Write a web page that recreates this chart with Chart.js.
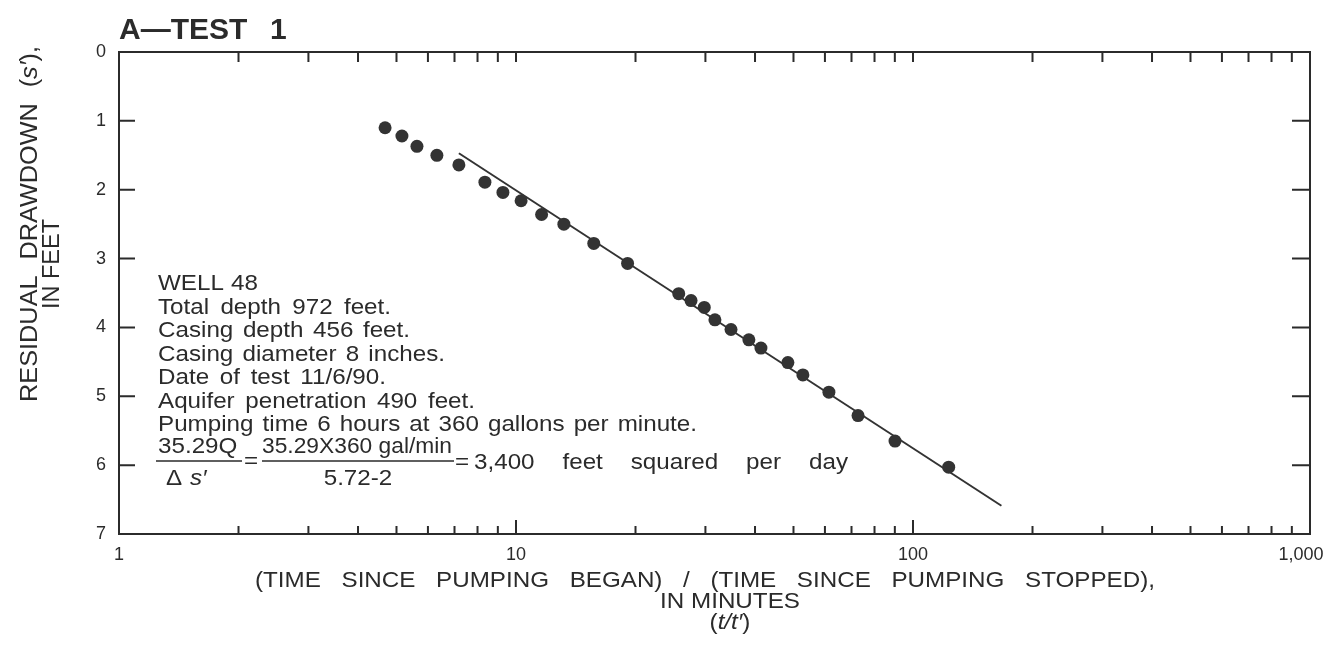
<!DOCTYPE html>
<html>
<head>
<meta charset="utf-8">
<script src="https://cdn.jsdelivr.net/npm/chart.js@4.4.0/dist/chart.umd.min.js"></script>
<style>
  html, body { margin: 0; padding: 0; background: #fff; }
  #wrap { width: 1330px; height: 662px; }
</style>
</head>
<body>
<div id="wrap"><canvas id="grafik"></canvas></div>
<script>
// t/t' ratio and residual drawdown
const ratio = [4.68, 5.16, 5.63, 6.32, 7.18, 8.35, 9.27, 10.3, 11.6, 13.2, 15.7, 19.1,
  25.7, 27.6, 29.8, 31.7, 34.8, 38.6, 41.4, 48.4, 52.8, 61.4, 72.7, 90.1, 123];
const drawdown = [1.10, 1.22, 1.37, 1.50, 1.64, 1.89, 2.04, 2.16, 2.36, 2.50, 2.78, 3.07,
  3.51, 3.61, 3.71, 3.89, 4.03, 4.18, 4.30, 4.51, 4.69, 4.94, 5.28, 5.65, 6.03];
// straight-line fit
const fitRatio = [7.18, 167];
const fitDrawdown = [1.47, 6.59];

const xTicks = [1, 10, 100, 1000];
const yTicks = [0, 1, 2, 3, 4, 5, 6, 7];

const notes = [
  'WELL 48',
  'Total depth 972 feet.',
  'Casing depth 456 feet.',
  'Casing diameter 8 inches.',
  'Date of test 11/6/90.',
  'Aquifer penetration 490 feet.',
  'Pumping time 6 hours at 360 gallons per minute.'
];

const ink = '#2b2b2b';
const fam = '"Liberation Sans", Arial, Helvetica, sans-serif';
const SX = 1.1; // the scanned lettering is a bit wider than Arial

// draw text, stretching word gaps (or squeezing letters) to reach a target width
function put(ctx, text, x, y, target, align) {
  ctx.wordSpacing = '0px';
  const n = (text.match(/ /g) || []).length;
  let sx = SX;
  let w = ctx.measureText(text).width * sx;
  if (target && n && target > w) {
    ctx.wordSpacing = ((target - w) / n / sx) + 'px';
    w = target;
  } else if (target && target < w) {
    sx = sx * target / w;
    w = target;
  }
  const left = align === 'center' ? x - w / 2 : x;
  ctx.save();
  ctx.translate(left, y);
  ctx.scale(sx, 1);
  ctx.textAlign = 'left';
  ctx.fillText(text, 0, 0);
  ctx.restore();
  ctx.wordSpacing = '0px';
  return w;
}

// runs of normal / italic text, centred on x
function runs(ctx, parts, x, y, size, gap) {
  ctx.wordSpacing = gap + 'px';
  const ws = parts.map(p => {
    ctx.font = (p.i ? 'italic ' : '') + size + 'px ' + fam;
    return ctx.measureText(p.t).width * SX;
  });
  let sx = x - ws.reduce((a, b) => a + b, 0) / 2;
  parts.forEach((p, k) => {
    ctx.font = (p.i ? 'italic ' : '') + size + 'px ' + fam;
    ctx.save();
    ctx.translate(sx, y);
    ctx.scale(SX, 1);
    ctx.textAlign = 'left';
    ctx.fillText(p.t, 0, 0);
    ctx.restore();
    sx += ws[k];
  });
  ctx.wordSpacing = '0px';
  ctx.font = size + 'px ' + fam;
}

const frame = {
  id: 'frame',
  afterDraw(chart) {
    const ctx = chart.ctx;
    const a = chart.chartArea;
    const xs = chart.scales.x, ys = chart.scales.y;
    ctx.save();
    ctx.strokeStyle = ink;
    ctx.lineWidth = 2;
    ctx.strokeRect(a.left, a.top, a.right - a.left, a.bottom - a.top);

    // inward tick marks on all four sides
    ctx.beginPath();
    for (let d = 1; d < 1000; d *= 10) {
      for (let m = 1; m <= 9; m++) {
        if (m === 1 && d === 1) continue;
        const px = xs.getPixelForValue(m * d);
        ctx.moveTo(px, a.bottom); ctx.lineTo(px, a.bottom - (m === 1 ? 14 : 8));
        ctx.moveTo(px, a.top); ctx.lineTo(px, a.top + 10);
      }
    }
    yTicks.forEach(v => {
      if (v === 0 || v === 7) return;
      const py = ys.getPixelForValue(v);
      ctx.moveTo(a.left, py); ctx.lineTo(a.left + 16, py);
      ctx.moveTo(a.right, py); ctx.lineTo(a.right - 18, py);
    });
    ctx.stroke();

    ctx.fillStyle = ink;
    ctx.textBaseline = 'alphabetic';

    // title
    ctx.font = 'bold 30px ' + fam;
    ctx.textAlign = 'left';
    ctx.fillText('A\u2014TEST', 119, 39);
    ctx.fillText('1', 270, 39);

    // y axis title (rotated)
    ctx.save();
    ctx.translate(37, 224);
    ctx.rotate(-Math.PI / 2);
    runs(ctx, [{ t: 'RESIDUAL DRAWDOWN (' }, { t: 's\u2032', i: true }, { t: '),' }], 0, 0, 23, 8);
    ctx.restore();
    ctx.save();
    ctx.translate(59, 264);
    ctx.rotate(-Math.PI / 2);
    ctx.font = '23px ' + fam;
    put(ctx, 'IN FEET', 0, 0, 90, 'center');
    ctx.restore();

    // x axis title
    ctx.font = '22px ' + fam;
    put(ctx, '(TIME SINCE PUMPING BEGAN) / (TIME SINCE PUMPING STOPPED),', 705, 587, 900, 'center');
    put(ctx, 'IN MINUTES', 730, 608, 0, 'center');
    runs(ctx, [{ t: '(' }, { t: 't/t\u2032', i: true }, { t: ')' }], 730, 629, 22, 0);

    // well notes
    ctx.font = '22px ' + fam;
    const noteW = [100, 233, 252, 287, 228, 317, 539];
    notes.forEach((s, i) => put(ctx, s, 158, 290 + i * 23.5, noteW[i]));

    // transmissivity equation
    put(ctx, '35.29Q', 158, 453, 0);
    put(ctx, '35.29X360 gal/min', 262, 453, 190);
    ctx.lineWidth = 1.5;
    ctx.beginPath();
    ctx.moveTo(156, 461); ctx.lineTo(242, 461);
    ctx.moveTo(262, 461); ctx.lineTo(454, 461);
    ctx.stroke();
    put(ctx, '=', 244, 468, 0);
    put(ctx, '=', 455, 469, 0);
    put(ctx, '3,400 feet squared per day', 474, 469, 374);
    put(ctx, '\u0394', 166, 485, 0);
    ctx.font = 'italic 22px ' + fam;
    put(ctx, 's\u2032', 190, 485, 0);
    ctx.font = '22px ' + fam;
    put(ctx, '5.72-2', 358, 485, 0, 'center');
    ctx.restore();
  }
};

const ctx = document.getElementById('grafik').getContext('2d');
new Chart(ctx, {
  type: 'scatter',
  data: {
    datasets: [{
      label: 'Residual drawdown',
      data: ratio.map((r, i) => ({ x: r, y: drawdown[i] })),
      pointRadius: 6.5,
      pointHoverRadius: 6.5,
      pointBackgroundColor: '#333',
      pointBorderWidth: 0
    }, {
      label: 'Fit',
      type: 'line',
      data: fitRatio.map((r, i) => ({ x: r, y: fitDrawdown[i] })),
      borderColor: '#333',
      borderWidth: 2,
      pointRadius: 0,
      fill: false
    }]
  },
  options: {
    responsive: true,
    maintainAspectRatio: false,
    animation: false,
    layout: { padding: { left: 0, top: 52, right: 20, bottom: 0 } },
    plugins: { legend: { display: false }, tooltip: { enabled: false } },
    scales: {
      x: {
        type: 'logarithmic',
        min: 1,
        max: 1000,
        grid: { display: false, drawTicks: false },
        border: { display: false },
        afterBuildTicks: s => { s.ticks = xTicks.map(v => ({ value: v })); },
        afterFit: s => { s.height = 662 - 534; s.paddingLeft = 0; s.paddingRight = 0; },
        ticks: {
          autoSkip: false,
          maxRotation: 0,
          padding: 10,
          color: ink,
          font: { size: 18, family: fam },
          callback: v => v === 1000 ? '1,000\u2003' : v.toLocaleString('en-US')
        }
      },
      y: {
        min: 0,
        max: 7,
        reverse: true,
        grid: { display: false, drawTicks: false },
        border: { display: false },
        afterBuildTicks: s => { s.ticks = yTicks.map(v => ({ value: v })); },
        afterFit: s => { s.width = 119; s.paddingTop = 0; s.paddingBottom = 0; },
        ticks: {
          padding: 13,
          color: ink,
          font: { size: 18, family: fam }
        }
      }
    }
  },
  plugins: [frame]
});
</script>
</body>
</html>
